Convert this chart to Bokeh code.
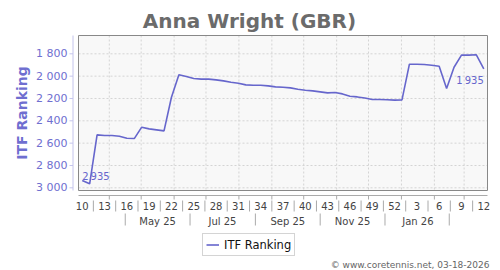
import math
import datetime as dt
from bokeh.plotting import figure
from bokeh.models import Range1d, Label, Legend, LegendItem
from bokeh.core.properties import value
from bokeh.embed import file_html
from bokeh.resources import INLINE

# ---------------- data ----------------
player = "Anna Wright (GBR)"
series_name = "ITF Ranking"
iso_years = [2025] * 43 + [2026] * 12
iso_weeks = list(range(10, 53)) + list(range(1, 13))
ranking = [2935, 2964, 2526, 2532, 2532, 2538, 2556, 2559, 2457, 2472, 2481, 2490,
           2189, 1988, 2003, 2021, 2027, 2027, 2033, 2042, 2054, 2063, 2078, 2081,
           2081, 2087, 2096, 2099, 2105, 2117, 2126, 2132, 2141, 2150, 2147, 2159,
           2180, 2186, 2195, 2209, 2209, 2212, 2215,
           2213, 1893, 1893, 1896, 1902, 1911, 2110, 1920, 1812, 1812, 1809, 1935]
y_ticks = [1800, 2000, 2200, 2400, 2600, 2800, 3000]
y_tick_labels = ["1 800", "2 000", "2 200", "2 400", "2 600", "2 800", "3 000"]
band_label_months = [(2025, 5), (2025, 7), (2025, 9), (2025, 11), (2026, 1)]
band_labels = ["May 25", "Jul 25", "Sep 25", "Nov 25", "Jan 26"]
band_sep_months = [(2025, 4), (2025, 6), (2025, 8), (2025, 10), (2025, 12), (2026, 2)]
first_label = "2\u2009935"
last_label = "1\u2009935"
credit = "\u00a9 www.coretennis.net, 03-18-2026"

# ---------------- styles ----------------
FONT = "DejaVu Sans"
LINE_C = "#6666cc"
AXIS_TXT = "#6f6fd0"
AXIS_LINE = "#c4c4ec"
GREY_TXT = "#444444"
SEP_C = "#aaaaaa"

# ---------------- time helpers (hours since first Monday) ----------------
mondays = [dt.datetime.combine(dt.date.fromisocalendar(y, w, 1), dt.time())
           for y, w in zip(iso_years, iso_weeks)]
t0 = mondays[0]
t_end = mondays[-1] + dt.timedelta(days=7)


def hrs(d):
    return int(round((d - t0).total_seconds() / 3600))


def month_mid(y, m):
    nxt = dt.datetime(y + (m == 12), m % 12 + 1, 1)
    return (hrs(dt.datetime(y, m, 1)) + hrs(nxt)) / 2


xs = [hrs(m) + 84 for m in mondays]
rect_l, rect_r = 0, hrs(t_end)

month_starts = []
y_, m_ = t0.year, t0.month
while True:
    m_ += 1
    if m_ > 12:
        m_, y_ = 1, y_ + 1
    d = dt.datetime(y_, m_, 1)
    if d >= t_end:
        break
    month_starts.append(hrs(d))

wk_ticks = xs[::3]
wk_texts = [str(w) for w in iso_weeks[::3]]
wk_seps = [(wk_ticks[i] + wk_ticks[i + 1]) / 2 for i in range(len(wk_ticks) - 1)]
band_ticks = [month_mid(y, m) for y, m in band_label_months]
band_seps = [month_mid(y, m) for y, m in band_sep_months]

# ---------------- pixel geometry ----------------
W, H = 500, 270
RC_L, RC_R, RC_T, RC_B = 78, 487, 35, 190      # drawn plot box
Y_TOP, Y_BOT = 1636, 3024                      # values at box top / bottom
upp = (Y_BOT - Y_TOP) / (RC_B - RC_T)
hpp = (rect_r - rect_l) / (RC_R - RC_L)


def vy(py):
    return Y_TOP + (py - RC_T) * upp


def vx(px):
    return rect_l + (px - RC_L) * hpp


p = figure(width=W, height=H, output_backend="svg", toolbar_location=None,
           x_range=Range1d(vx(0), vx(W)), y_range=Range1d(vy(H), vy(0)),
           x_axis_location=None, y_axis_location=None,
           min_border=0, outline_line_color=None,
           background_fill_color="white", border_fill_color="white")
p.grid.visible = False


def txt(x, y, t, size, color, align="center", baseline="middle", style="normal", angle=0.0):
    p.text(x=x, y=y, text=t, text_align=align, text_baseline=baseline,
           text_font=value(FONT), text_font_size=value(size), text_font_style=style,
           text_color=color, angle=angle)


# title
txt([vx(249)], [vy(20.5)], [player], "20px", "#6b6b6b", baseline="alphabetic", style="bold")

# plot box background
p.quad(left=rect_l, right=rect_r, top=Y_TOP, bottom=Y_BOT,
       fill_color="#f8f8f8", line_color=None)
# grid lines
p.segment(x0=[rect_l] * len(y_ticks), x1=[rect_r] * len(y_ticks), y0=y_ticks, y1=y_ticks,
          line_color="#d4d4d4", line_dash="2 2", line_width=1)
p.segment(x0=month_starts, x1=month_starts, y0=[Y_TOP] * len(month_starts),
          y1=[Y_BOT] * len(month_starts),
          line_color="#d4d4d4", line_dash="2 2", line_width=1)
# series
r = p.line(xs, ranking, line_color=LINE_C, line_width=1.6)
# box outline
p.quad(left=rect_l, right=rect_r, top=Y_TOP, bottom=Y_BOT,
       fill_color=None, line_color="#888888", line_width=1)

# y axis: line, ticks, labels, title
p.segment(x0=[vx(72.5)], x1=[vx(72.5)], y0=[Y_TOP], y1=[Y_BOT], line_color=AXIS_LINE, line_width=1)
p.segment(x0=[vx(69)] * len(y_ticks), x1=[vx(72.5)] * len(y_ticks), y0=y_ticks, y1=y_ticks,
          line_color=AXIS_LINE, line_width=1)
txt([vx(67)] * len(y_ticks), y_ticks, y_tick_labels, "11px", AXIS_TXT, align="right")
txt([vx(21)], [vy(112.5)], [series_name], "14px", AXIS_TXT, style="bold", angle=math.pi / 2)

# x axis line + month ticks
p.segment(x0=[rect_l], x1=[rect_r], y0=[vy(195)], y1=[vy(195)], line_color=SEP_C, line_width=1)
p.segment(x0=month_starts, x1=month_starts, y0=[vy(195)] * len(month_starts),
          y1=[vy(199)] * len(month_starts), line_color=SEP_C, line_width=1)
# week labels + separators
txt(wk_ticks, [vy(205)] * len(wk_ticks), wk_texts, "10px", GREY_TXT)
p.segment(x0=wk_seps, x1=wk_seps, y0=[vy(200)] * len(wk_seps), y1=[vy(211)] * len(wk_seps),
          line_color=SEP_C, line_width=1)
# month band labels + separators
txt(band_ticks, [vy(220.5)] * len(band_ticks), band_labels, "10px", GREY_TXT)
p.segment(x0=band_seps, x1=band_seps, y0=[vy(213)] * len(band_seps),
          y1=[vy(225)] * len(band_seps), line_color=SEP_C, line_width=1)

# first / last value labels
p.add_layout(Label(x=xs[0], y=ranking[0], text=first_label, text_align="left",
                   text_baseline="alphabetic", y_offset=4, text_font=FONT,
                   text_font_size="10px", text_color=LINE_C))
p.add_layout(Label(x=xs[-1], y=ranking[-1], text=last_label, text_align="right",
                   text_baseline="alphabetic", y_offset=-12, text_font=FONT,
                   text_font_size="10px", text_color=LINE_C))

# legend
legend = Legend(items=[LegendItem(label=series_name, renderers=[r])],
                location=(202, H - 256), orientation="horizontal",
                border_line_color="#aaaaaa", background_fill_color="white",
                background_fill_alpha=1.0, padding=3, margin=0, spacing=0,
                glyph_width=13, glyph_height=15, label_height=15, label_standoff=5,
                label_text_font=FONT, label_text_font_size="11.5px",
                label_text_color="#111111")
p.add_layout(legend)

# credit
txt([vx(489)], [vy(264.5)], [credit], "9px", "#666666", align="right")

open("out.html", "w").write(file_html(p, INLINE))
